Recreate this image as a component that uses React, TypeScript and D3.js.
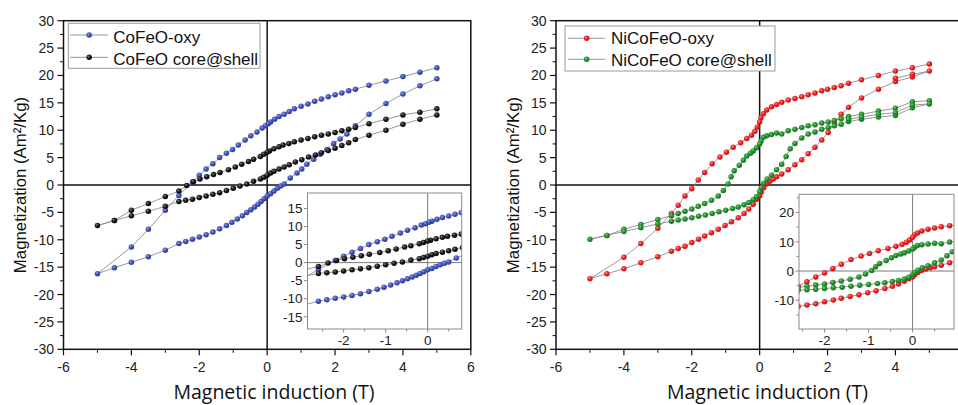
import React from "react";
import * as d3 from "d3";

type Pt = [number, number];

// field (T), magnetization (Am2/Kg)
const coFeOxyDown: Pt[] = [
  [5, 21.4], [4.5, 20.6], [4, 19.8], [3.5, 19.0], [3, 18.2], [2.6, 17.5], [2.4, 17.2], [2.2, 16.8],
  [2, 16.5], [1.8, 16.1], [1.6, 15.7], [1.4, 15.3], [1.2, 14.8], [1, 14.4], [0.8, 13.9], [0.65, 13.4],
  [0.5, 12.9], [0.35, 12.5], [0.22, 12.0], [0.1, 11.5], [0.03, 11.2], [-0.05, 10.8], [-0.15, 10.4],
  [-0.3, 9.7], [-0.48, 9.0], [-0.65, 8.2], [-0.85, 7.3], [-1.02, 6.5], [-1.2, 5.8], [-1.4, 5.0],
  [-1.6, 3.9], [-1.8, 2.9], [-2, 1.8], [-2.2, 0.6], [-2.6, -1.9], [-3, -4.6], [-3.5, -8.1], [-4, -11.3], [-5, -16.2],
];
const coFeOxyUp: Pt[] = [
  [-4.5, -15.1], [-4, -14.1], [-3.5, -13.1], [-3, -11.9], [-2.6, -10.7], [-2.4, -10.3], [-2.2, -9.9],
  [-2, -9.5], [-1.8, -9.1], [-1.6, -8.6], [-1.4, -8.0], [-1.2, -7.4], [-1.04, -6.8], [-0.88, -6.2],
  [-0.73, -5.6], [-0.6, -5.0], [-0.48, -4.5], [-0.37, -4.0], [-0.27, -3.5], [-0.18, -3.0], [-0.09, -2.5],
  [0, -2.0], [0.1, -1.6], [0.2, -1.1], [0.3, -0.6], [0.4, -0.2], [0.5, 0.2], [0.68, 1.3], [0.88, 2.2],
  [1.02, 2.9], [1.17, 3.8], [1.37, 4.7], [1.56, 5.6], [1.76, 6.5], [1.96, 7.6], [2.15, 8.4], [2.35, 9.3],
  [2.6, 10.8], [3, 12.9], [3.5, 14.9], [4, 16.6], [4.5, 18.1], [5, 19.4],
];
const coFeShellDown: Pt[] = [
  [5, 13.9], [4.5, 13.3], [4, 12.8], [3.5, 12.0], [3, 11.2], [2.6, 10.5], [2.4, 10.2], [2.2, 9.9],
  [2, 9.6], [1.8, 9.3], [1.6, 9.1], [1.4, 8.8], [1.2, 8.5], [1, 8.2], [0.8, 7.9], [0.64, 7.6],
  [0.47, 7.3], [0.35, 7.0], [0.2, 6.6], [0.07, 6.2], [0, 6.0], [-0.1, 5.6], [-0.2, 5.2], [-0.4, 4.7],
  [-0.55, 4.3], [-0.75, 3.8], [-0.94, 3.3], [-1.14, 2.8], [-1.39, 2.3], [-1.58, 1.9], [-1.78, 1.5],
  [-1.98, 1.1], [-2.17, 0.6], [-2.37, -0.1], [-2.6, -1.1], [-3, -2.1], [-3.5, -3.4], [-4, -4.6],
  [-4.5, -6.5], [-5, -7.4],
];
const coFeShellUp: Pt[] = [
  [-4.5, -6.5], [-4, -5.6], [-3.5, -4.8], [-3, -3.9], [-2.6, -3.0], [-2.4, -2.8], [-2.2, -2.6],
  [-2, -2.3], [-1.8, -2.0], [-1.6, -1.7], [-1.4, -1.4], [-1.2, -1.0], [-1, -0.6], [-0.8, -0.2],
  [-0.6, 0.2], [-0.4, 0.7], [-0.2, 1.1], [-0.1, 1.4], [0, 1.8], [0.1, 2.2], [0.2, 2.5], [0.35, 2.9],
  [0.5, 3.3], [0.65, 3.7], [0.83, 4.2], [1.02, 4.6], [1.22, 5.1], [1.42, 5.5], [1.6, 5.9], [1.8, 6.3],
  [2, 6.7], [2.2, 7.2], [2.4, 7.7], [2.6, 8.3], [3, 9.1], [3.5, 10.0], [4, 11.1], [4.5, 12.0], [5, 12.8],
];
const niOxyDown: Pt[] = [
  [5, 22.1], [4.5, 21.4], [4, 20.8], [3.5, 20.0], [3, 19.2], [2.62, 18.6], [2.4, 18.1], [2.2, 17.8],
  [2, 17.5], [1.83, 17.2], [1.63, 16.8], [1.43, 16.5], [1.24, 16.1], [1.04, 15.8], [0.84, 15.5],
  [0.65, 15.1], [0.5, 14.7], [0.35, 14.3], [0.21, 13.7], [0.11, 13.0], [0.04, 12.3], [0, 11.5],
  [-0.07, 10.6], [-0.14, 9.8], [-0.24, 9.1], [-0.38, 8.5], [-0.56, 7.7], [-0.78, 6.9], [-0.98, 6.0],
  [-1.17, 5.1], [-1.4, 3.9], [-1.62, 2.3], [-1.81, 0.9], [-2, -0.7], [-2.2, -2.0], [-2.4, -3.7],
  [-2.6, -5.2], [-3, -7.9], [-3.5, -10.7], [-4, -13.2], [-5, -17.1],
];
const niOxyUp: Pt[] = [
  [-4.5, -16.2], [-4, -15.3], [-3.5, -14.2], [-3, -13.1], [-2.6, -12.1], [-2.4, -11.6], [-2.2, -11.2],
  [-2, -10.5], [-1.8, -9.9], [-1.62, -9.3], [-1.42, -8.7], [-1.22, -8.1], [-1.02, -7.4], [-0.83, -6.7],
  [-0.63, -6.0], [-0.46, -5.2], [-0.32, -4.4], [-0.19, -3.5], [-0.09, -2.6], [0, -2.0], [0.05, -1.3],
  [0.12, -0.5], [0.2, 0.2], [0.3, 0.7], [0.4, 1.1], [0.5, 1.5], [0.65, 2.0], [0.84, 2.8], [1.04, 3.7],
  [1.24, 4.6], [1.43, 5.7], [1.63, 6.9], [1.83, 8.2], [2.02, 9.6], [2.2, 11.3], [2.4, 12.9],
  [2.62, 14.2], [3, 15.9], [3.5, 17.5], [4, 18.9], [4.5, 19.7], [5, 20.8],
];
const niOxyBack: Pt[] = [[4.5, 20.2], [4, 19.5]];
const niShellDown: Pt[] = [
  [5, 15.4], [4.5, 15.2], [4, 14.0], [3.5, 13.5], [3, 12.9], [2.62, 12.5], [2.4, 12.1], [2.2, 11.8],
  [2.02, 11.5], [1.83, 11.3], [1.63, 11.0], [1.43, 10.8], [1.24, 10.5], [1.04, 10.2], [0.84, 9.9],
  [0.65, 9.3], [0.5, 9.5], [0.35, 9.2], [0.21, 9.0], [0.11, 8.7], [0.04, 8.0], [0, 7.5], [-0.09, 6.8],
  [-0.19, 6.2], [-0.27, 5.8], [-0.38, 5.3], [-0.48, 4.5], [-0.6, 3.6], [-0.75, 2.6], [-0.84, 1.5],
  [-0.93, 0.2], [-1.07, -1.0], [-1.22, -2.0], [-1.42, -2.8], [-1.62, -3.4], [-1.81, -3.9], [-2, -4.4],
  [-2.2, -4.8], [-2.4, -5.2], [-2.6, -5.6], [-3, -6.3], [-3.5, -7.2], [-4, -8.1], [-4.5, -9.2], [-5, -9.9],
];
const niShellUp: Pt[] = [
  [-4.5, -9.2], [-4, -8.5], [-3.5, -7.8], [-3, -7.1], [-2.6, -6.6], [-2.4, -6.4], [-2.2, -6.2],
  [-2, -6.0], [-1.8, -5.7], [-1.6, -5.5], [-1.4, -5.2], [-1.2, -4.9], [-1, -4.6], [-0.8, -4.3],
  [-0.63, -4.0], [-0.46, -3.6], [-0.32, -3.2], [-0.19, -2.7], [-0.09, -2.1], [0, -1.2], [0.05, -0.5],
  [0.12, 0.3], [0.22, 1.1], [0.35, 1.8], [0.5, 2.8], [0.65, 3.8], [0.78, 5.2], [0.9, 6.6], [1.04, 7.6],
  [1.24, 8.6], [1.43, 9.3], [1.63, 9.7], [1.83, 10.2], [2.02, 10.5], [2.2, 10.8], [2.4, 11.1],
  [2.62, 11.6], [3, 12.0], [3.5, 12.4], [4, 12.7], [4.5, 14.1], [5, 14.8],
];
const niShellBack: Pt[] = [[4.5, 14.6], [4, 13.2], [3.5, 12.9], [3, 12.4], [2.62, 12.0]];

const fieldTicks = [-6, -4, -2, 0, 2, 4, 6];
const momentTicks = [-30, -25, -20, -15, -10, -5, 0, 5, 10, 15, 20, 25, 30];
const insetFieldTicks = [-2, -1, 0];
const leftInsetMoment = [-15, -10, -5, 0, 5, 10, 15];
const rightInsetMoment = [-10, 0, 10, 20];

type Series = { name: string; id: string; light: string; mid: string; dark: string; pts: Pt[] };

const leftSeries: Series[] = [
  { name: "CoFeO-oxy", id: "blue", light: "#8e9ae6", mid: "#4354ba", dark: "#26349a", pts: [...coFeOxyDown, ...coFeOxyUp] },
  { name: "CoFeO core@shell", id: "black", light: "#7a7a7a", mid: "#1c1c1c", dark: "#000", pts: [...coFeShellDown, ...coFeShellUp] },
];
const rightSeries: Series[] = [
  { name: "NiCoFeO-oxy", id: "red", light: "#ff8c86", mid: "#ec2225", dark: "#c40f14", pts: [...niOxyDown, ...niOxyUp, ...niOxyBack] },
  { name: "NiCoFeO core@shell", id: "green", light: "#78c878", mid: "#23932f", dark: "#146e1f", pts: [...niShellDown, ...niShellUp, ...niShellBack] },
];

const SANS = "'Liberation Sans', Arial, sans-serif";
const R = 2.75;
const W = 958;

function Marks({ series, x, y }: { series: Series[]; x: any; y: any }) {
  const line = d3.line<Pt>().x((d) => x(d[0])).y((d) => y(d[1]));
  return (
    <g>
      {series.map((s) => (
        <path key={s.id + "l"} d={line(s.pts) || ""} fill="none" stroke="#8c8c8c" strokeWidth={0.9} />
      ))}
      {series.map((s) => (
        <g key={s.id + "d"}>
          {s.pts.map((d, i) => (
            <circle key={i} cx={x(d[0])} cy={y(d[1])} r={R} fill={`url(#ball-${s.id})`} />
          ))}
        </g>
      ))}
    </g>
  );
}

type InsetCfg = { x0: number; x1: number; y0: number; y1: number; xd: [number, number]; yd: [number, number]; yt: number[]; ym: number[]; xm: number[] };

function Inset({ cfg, series, id }: { cfg: InsetCfg; series: Series[]; id: string }) {
  const x = d3.scaleLinear().domain(cfg.xd).range([cfg.x0, cfg.x1]);
  const y = d3.scaleLinear().domain(cfg.yd).range([cfg.y1, cfg.y0]);
  return (
    <g>
      <rect x={cfg.x0} y={cfg.y0} width={cfg.x1 - cfg.x0} height={cfg.y1 - cfg.y0} fill="#fff" />
      <clipPath id={id}>
        <rect x={cfg.x0} y={cfg.y0} width={cfg.x1 - cfg.x0} height={cfg.y1 - cfg.y0} />
      </clipPath>
      <g clipPath={`url(#${id})`}>
        <line x1={x(0)} x2={x(0)} y1={cfg.y0} y2={cfg.y1} stroke="#7a7a7a" strokeWidth={1} />
        <line x1={cfg.x0} x2={cfg.x1} y1={y(0)} y2={y(0)} stroke="#7a7a7a" strokeWidth={1} />
        <Marks series={series} x={x} y={y} />
      </g>
      <rect x={cfg.x0} y={cfg.y0} width={cfg.x1 - cfg.x0} height={cfg.y1 - cfg.y0} fill="none" stroke="#8a8a8a" strokeWidth={1} />
      {cfg.xm.map((t) => (
        <line key={"xm" + t} x1={x(t)} x2={x(t)} y1={cfg.y1} y2={cfg.y1 + 2.5} stroke="#8a8a8a" />
      ))}
      {insetFieldTicks.map((t) => (
        <g key={"xt" + t}>
          <line x1={x(t)} x2={x(t)} y1={cfg.y1} y2={cfg.y1 + 3.5} stroke="#8a8a8a" />
          <text x={x(t)} y={cfg.y1 + 16} textAnchor="middle" fontSize={13.5} fontFamily={SANS} fill="#222">{t}</text>
        </g>
      ))}
      {cfg.ym.map((t) => (
        <line key={"ym" + t} x1={cfg.x0 - 2.5} x2={cfg.x0} y1={y(t)} y2={y(t)} stroke="#8a8a8a" />
      ))}
      {cfg.yt.map((t) => (
        <g key={"yt" + t}>
          <line x1={cfg.x0 - 3.5} x2={cfg.x0} y1={y(t)} y2={y(t)} stroke="#8a8a8a" />
          <text x={cfg.x0 - 5} y={y(t) + 4.8} textAnchor="end" fontSize={13.5} fontFamily={SANS} fill="#222">{t}</text>
        </g>
      ))}
    </g>
  );
}

type PanelCfg = {
  left: number;
  series: Series[];
  legend: { x: number; y: number; w: number; h: number; lx0: number; lx1: number; rows: number[]; tx: number; base: number[] };
  inset: InsetCfg;
  titleX: number;
  xTitleX: number;
  id: string;
};

const TOP = 20.7;
const BOTTOM = 349.3;
const PW = 407.3;

function Panel({ cfg }: { cfg: PanelCfg }) {
  const x = d3.scaleLinear().domain([-6, 6]).range([cfg.left, cfg.left + PW]);
  const y = d3.scaleLinear().domain([-30, 30]).range([BOTTOM, TOP]);
  const lg = cfg.legend;
  const yMinor = momentTicks.slice(1).map((t) => t - 2.5);
  const xMinor = fieldTicks.slice(1).map((t) => t - 1);
  // the right panel runs past the page edge; its last label is not in view
  const xLabels = fieldTicks.filter((t) => x(t) + 6 < W);
  return (
    <g>
      <rect x={cfg.left} y={TOP} width={PW} height={BOTTOM - TOP} fill="none" stroke="#111" strokeWidth={1.5} />
      <line x1={x(0)} x2={x(0)} y1={TOP} y2={BOTTOM} stroke="#111" strokeWidth={1.5} />
      <line x1={cfg.left} x2={cfg.left + PW} y1={y(0)} y2={y(0)} stroke="#111" strokeWidth={1.5} />
      {yMinor.map((t) => (
        <line key={"ym" + t} x1={cfg.left - 3.5} x2={cfg.left} y1={y(t)} y2={y(t)} stroke="#111" strokeWidth={1} />
      ))}
      {momentTicks.map((t) => (
        <g key={"yt" + t}>
          <line x1={cfg.left - 6} x2={cfg.left} y1={y(t)} y2={y(t)} stroke="#111" strokeWidth={1.2} />
          <text x={cfg.left - 9.5} y={y(t) + 5} textAnchor="end" fontSize={14} fontFamily={SANS} fill="#222">{t}</text>
        </g>
      ))}
      {xMinor.map((t) => (
        <line key={"xm" + t} x1={x(t)} x2={x(t)} y1={BOTTOM} y2={BOTTOM + 3.5} stroke="#111" strokeWidth={1} />
      ))}
      {fieldTicks.map((t) => (
        <line key={"xt" + t} x1={x(t)} x2={x(t)} y1={BOTTOM} y2={BOTTOM + 6} stroke="#111" strokeWidth={1.2} />
      ))}
      {xLabels.map((t) => (
        <text key={"xl" + t} x={x(t)} y={371.5} textAnchor="middle" fontSize={14} fontFamily={SANS} fill="#222">{t}</text>
      ))}
      <Marks series={cfg.series} x={x} y={y} />
      <Inset cfg={cfg.inset} series={cfg.series} id={cfg.id + "-clip"} />
      <rect x={lg.x} y={lg.y} width={lg.w} height={lg.h} fill="#fff" stroke="#9a9a9a" strokeWidth={1} />
      {cfg.series.map((s, i) => (
        <g key={"lg" + s.id}>
          <line x1={lg.lx0} x2={lg.lx1} y1={lg.rows[i]} y2={lg.rows[i]} stroke="#8c8c8c" strokeWidth={0.9} />
          <circle cx={(lg.lx0 + lg.lx1) / 2} cy={lg.rows[i]} r={R} fill={`url(#ball-${s.id})`} />
          <text x={lg.tx} y={lg.base[i]} fontSize={17} fontFamily={SANS} fill="#111">{s.name}</text>
        </g>
      ))}
      <text
        transform={`translate(${cfg.titleX},${(TOP + BOTTOM) / 2}) rotate(-90)`}
        textAnchor="middle"
        fontSize={16.8}
        fontFamily={SANS}
        fill="#111"
      >
        Magnetization (Am²/Kg)
      </text>
      <text x={cfg.xTitleX} y={399} textAnchor="middle" fontSize={19.5} fontFamily="'Open Sans', sans-serif" fill="#111">
        Magnetic induction (T)
      </text>
    </g>
  );
}

const panels: PanelCfg[] = [
  {
    id: "left",
    left: 63.5,
    series: leftSeries,
    legend: { x: 68.3, y: 23.3, w: 191.7, h: 45, lx0: 70, lx1: 108.3, rows: [35, 57.3], tx: 113.3, base: [43.3, 65] },
    inset: { x0: 307.5, x1: 461.7, y0: 193, y1: 329, xd: [-2.86, 0.81], yd: [-18.4, 19.3], yt: leftInsetMoment, ym: [], xm: [-2.5, -1.5, -0.5, 0.5] },
    titleX: 25.5,
    xTitleX: 274,
  },
  {
    id: "right",
    left: 556,
    series: rightSeries,
    legend: { x: 565, y: 26, w: 210, h: 45, lx0: 568.3, lx1: 605, rows: [38.3, 59.3], tx: 611, base: [44.3, 66] },
    inset: { x0: 799, x1: 954, y0: 194.3, y1: 329, xd: [-2.58, 0.94], yd: [-19.8, 26.2], yt: rightInsetMoment, ym: [-15, -5, 5, 15, 25], xm: [-2.5, -1.5, -0.5, 0.5] },
    titleX: 518.5,
    xTitleX: 767.5,
  },
];

export default function App() {
  const all = [...leftSeries, ...rightSeries];
  return (
    <svg width={W} height={405} style={{ position: "absolute", left: 0, top: 0, background: "#fff" }}>
      <defs>
        {all.map((s) => (
          <radialGradient key={s.id} id={`ball-${s.id}`} cx="38%" cy="35%" r="70%">
            <stop offset="0%" stopColor={s.light} />
            <stop offset="45%" stopColor={s.mid} />
            <stop offset="100%" stopColor={s.dark} />
          </radialGradient>
        ))}
      </defs>
      <rect width={W} height={405} fill="#fff" />
      {panels.map((p) => (
        <Panel key={p.id} cfg={p} />
      ))}
    </svg>
  );
}
